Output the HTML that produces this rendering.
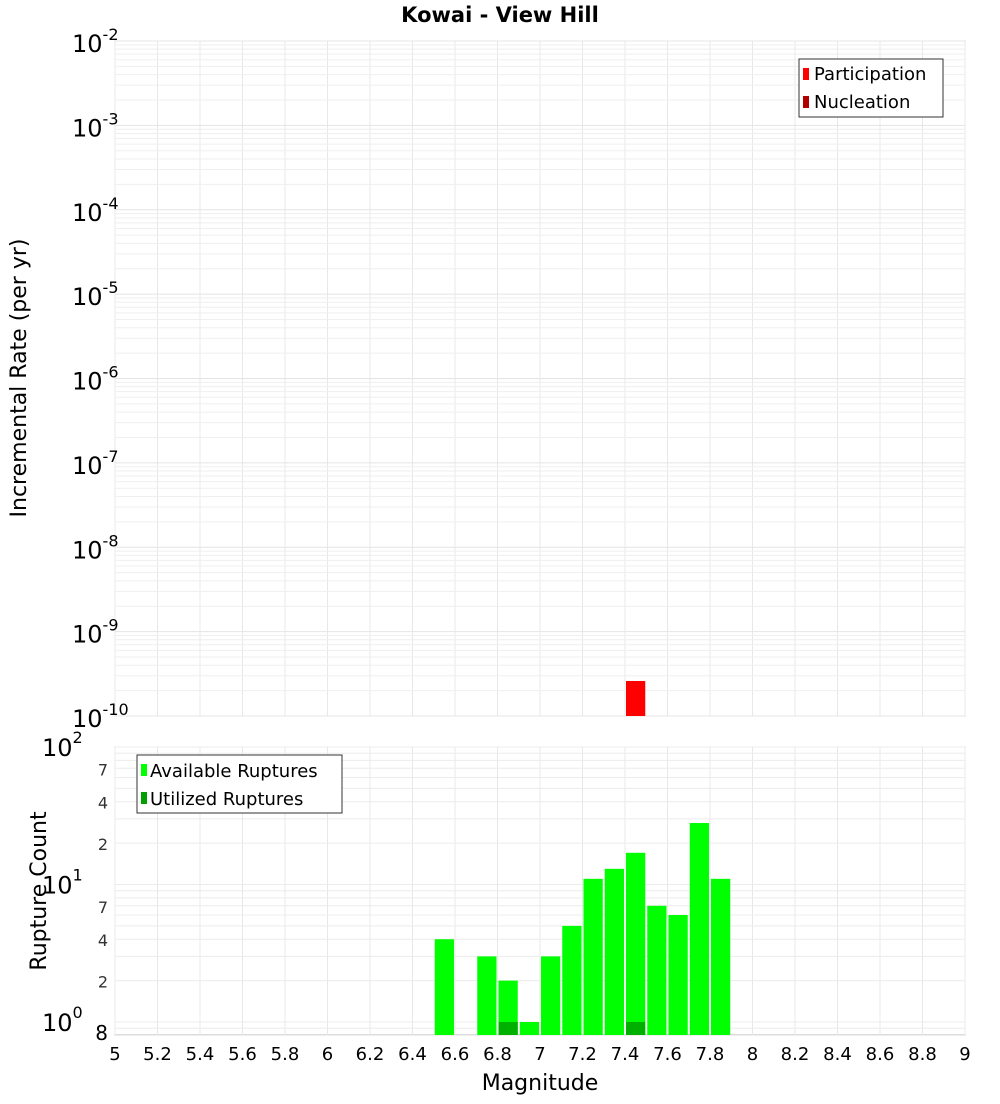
<!DOCTYPE html>
<html><head><meta charset="utf-8"><style>
body{margin:0;background:#fff;font-family:"DejaVu Sans","Liberation Sans",sans-serif}
svg text{font-family:"DejaVu Sans","Liberation Sans",sans-serif}
</style></head><body>
<svg id="chart" width="1000" height="1100" xmlns="http://www.w3.org/2000/svg">
<text x="500" y="22" text-anchor="middle" font-size="21" font-weight="bold">Kowai - View Hill</text>
<g id="topg"></g>
<g id="botg"></g>
<text transform="translate(26,378) rotate(-90)" text-anchor="middle" font-size="22">Incremental Rate (per yr)</text>
<text transform="translate(46,891) rotate(-90)" text-anchor="middle" font-size="22">Rupture Count</text>
<text x="540" y="1090" text-anchor="middle" font-size="22">Magnitude</text>
<g>
<rect x="799" y="59" width="144" height="58" fill="#fff" stroke="#333"/>
<rect x="803" y="68" width="6" height="12" fill="#ff0000"/><text x="814" y="80" font-size="18">Participation</text>
<rect x="803" y="96" width="6" height="12" fill="#b00000"/><text x="814" y="108" font-size="18">Nucleation</text>
</g>
<g>
<rect x="137" y="755" width="205" height="58" fill="#fff" stroke="#333"/>
<rect x="141" y="764" width="6" height="12" fill="#00ff00"/><text x="150" y="777" font-size="18">Available Ruptures</text>
<rect x="141" y="792" width="6" height="12" fill="#00a000"/><text x="150" y="805" font-size="18">Utilized Ruptures</text>
</g>
</svg>
<script>
const xTicks=[5,5.2,5.4,5.6,5.8,6,6.2,6.4,6.6,6.8,7,7.2,7.4,7.6,7.8,8,8.2,8.4,8.6,8.8,9];
const rateMags=[7.4];
const rateVals=[2.6e-10];
const countMags=[6.5,6.7,6.8,6.9,7.0,7.1,7.2,7.3,7.4,7.5,7.6,7.7,7.8];
const availVals=[4,3,2,1,3,5,11,13,17,7,6,28,11];
const utilMags=[6.8,7.4];
const utilVals=[1,1];
const rateExps=[-10,-9,-8,-7,-6,-5,-4,-3,-2];
const countMinor=[2,4,7,20,40,70];

const NS="http://www.w3.org/2000/svg";
const X0=115,X1=965;
const xs=m=>X0+(m-5)/4*(X1-X0);
const T0=41,T1=716,yT=v=>T1-(Math.log10(v)+10)/8*(T1-T0);
const B0=747,B1=1035,yB=v=>1022-Math.log10(v)*137.5;
function mk(p,t,a,txt){const e=document.createElementNS(NS,t);for(const k in a)e.setAttribute(k,a[k]);if(txt!=null)e.textContent=txt;p.appendChild(e);return e;}
const topG=document.getElementById('topg'),botG=document.getElementById('botg'),chartEl=document.getElementById('chart');
mk(topG,'rect',{x:X0,y:T0,width:X1-X0,height:T1-T0,fill:'#fff',stroke:'#aaa'});
mk(botG,'rect',{x:X0,y:B0,width:X1-X0,height:B1-B0,fill:'#fff',stroke:'#aaa'});
xTicks.forEach(m=>{
 const g=mk(topG,'line',{x1:xs(m),x2:xs(m),y1:T0,y2:T1,stroke:'#e8e8e8'});
 
 
 mk(botG,'line',{x1:xs(m),x2:xs(m),y1:B0,y2:B1,stroke:'#e8e8e8'});
 const t=mk(chartEl,'text',{x:xs(m),y:1060,'text-anchor':'middle','font-size':18},String(m));
 
 
});
rateExps.forEach((e,i)=>{
 const v=Math.pow(10,e);
 if(i<rateExps.length-1)for(let k=2;k<10;k++)mk(topG,'line',{x1:X0,x2:X1,y1:yT(k*v),y2:yT(k*v),stroke:'#efefef'});
 mk(topG,'line',{x1:X0,x2:X1,y1:yT(v),y2:yT(v),stroke:'#e4e4e4'});
 const t=mk(topG,'text',{x:72,y:yT(v)+11,'font-size':24});
 
 
 mk(t,'tspan',{},'10');mk(t,'tspan',{dy:-12,'font-size':16},String(e));
});
[0.8,0.9,1,2,3,4,5,6,7,8,9,10,20,30,40,50,60,70,80,90,100].forEach(v=>{
 mk(botG,'line',{x1:X0,x2:X1,y1:yB(v),y2:yB(v),stroke:'#ececec'});
});
[[1,'0'],[10,'1'],[100,'2']].forEach(([v,e])=>{
 const t=mk(botG,'text',{x:42,y:yB(v)+9,'font-size':24});
 
 
 mk(t,'tspan',{},'10');mk(t,'tspan',{dy:-13,'font-size':16},e);
});
countMinor.forEach(v=>{
 const t=mk(botG,'text',{x:108,y:yB(v)+7,'text-anchor':'end','font-size':16,fill:'#333'},String(v<10?v:v/10));
 
 
});
mk(botG,'text',{x:108,y:1040,'text-anchor':'end','font-size':20},'8');
const bw=xs(5.1)-xs(5);
rateMags.forEach((m,i)=>{
 const b=mk(topG,'rect',{x:xs(m)+1,y:yT(rateVals[i]),width:bw-2,height:T1-yT(rateVals[i]),fill:'#ff0000'});
 
 
});
countMags.forEach((m,i)=>{
 const b=mk(botG,'rect',{x:xs(m)+1,y:yB(availVals[i]),width:bw-2,height:B1-yB(availVals[i]),fill:'#00ff00'});
 
 
});
utilMags.forEach((m,i)=>{
 const b=mk(botG,'rect',{x:xs(m)+1,y:yB(utilVals[i]),width:bw-2,height:B1-yB(utilVals[i]),fill:'#00b000'});
 
 
});
</script>
</body></html>
